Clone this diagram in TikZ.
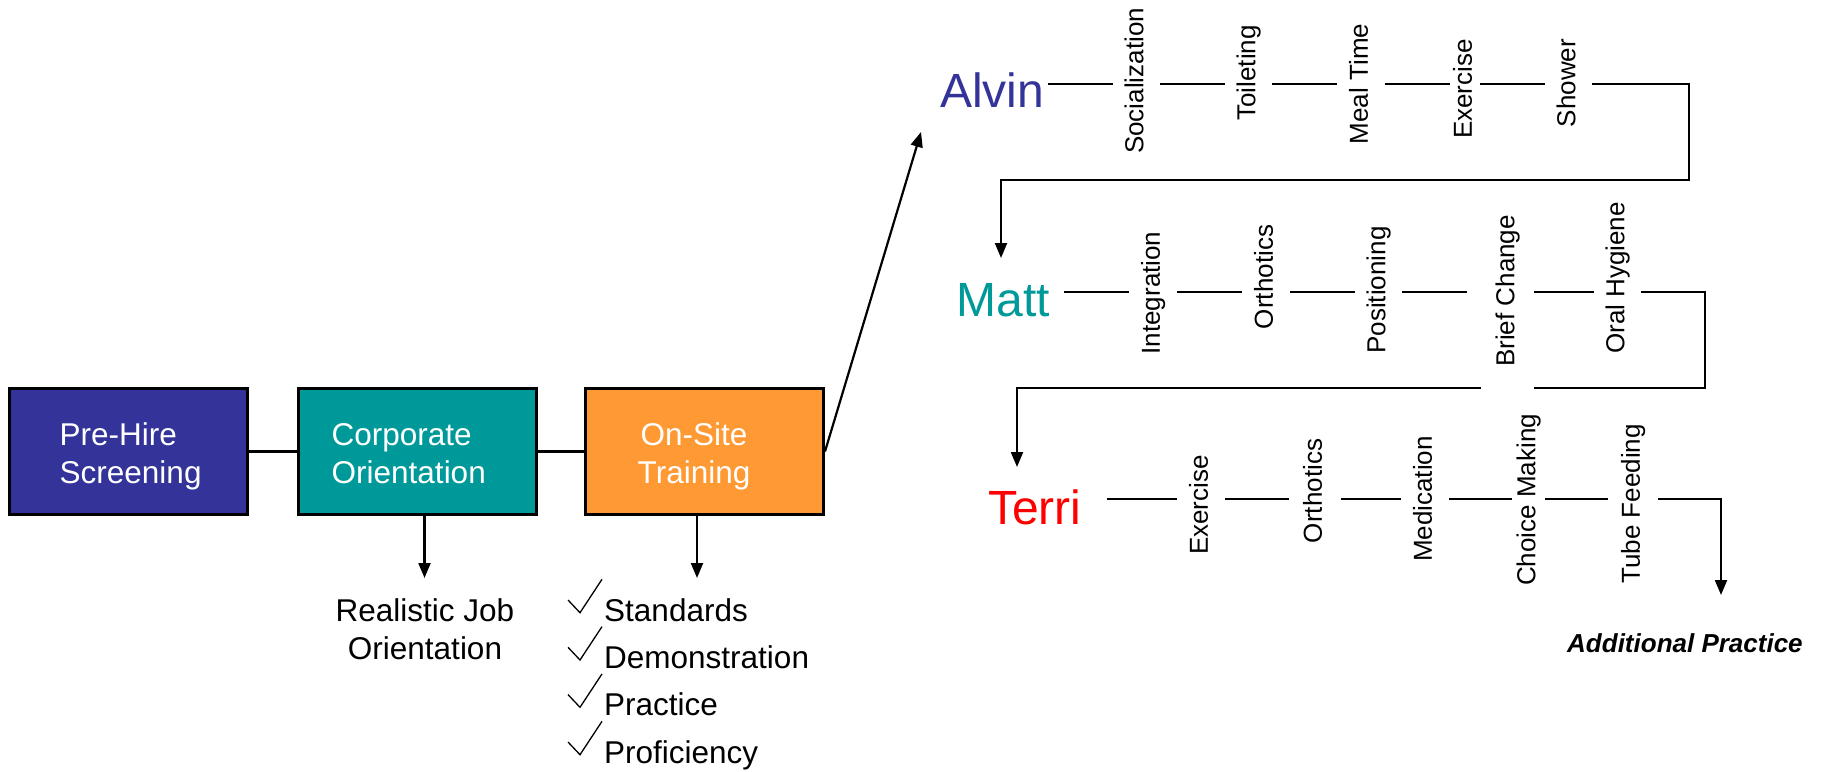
\documentclass[tikz,border=0pt]{standalone}
\usepackage{fontspec}
\setmainfont{Liberation Sans}
\usetikzlibrary{arrows.meta,calc}
\definecolor{cblue}{HTML}{333399}
\definecolor{cteal}{HTML}{009999}
\definecolor{corange}{HTML}{FF9933}
\definecolor{cred}{HTML}{FF0000}
\begin{document}
\begin{tikzpicture}[x=1pt,y=-1pt,
 conn/.style={line width=2.2pt},
 arr/.style={conn,-{Triangle[length=15pt,width=12pt]}},
 stagebox/.style={draw=black,line width=3pt,minimum width=238pt,minimum height=126pt,inner sep=0pt},
 boxtext/.style={text=white,inner sep=0pt,font=\fontsize{31.5}{38}\selectfont},
 plaintext/.style={inner sep=0pt,font=\fontsize{31.5}{38}\selectfont},
 person/.style={inner sep=0pt,anchor=base west,font=\fontsize{48}{56}\selectfont},
 task/.style={rotate=90,inner xsep=0pt,inner ysep=0pt,minimum height=#1,text height=19pt,text depth=5.5pt,font=\fontsize{26}{30}\selectfont},
 task/.default=47pt,
 tick/.style={line width=1.3pt,line join=miter}
]
\useasboundingbox (0,0) rectangle (1825,771);
\fill[white] (0,0) rectangle (1825,771);

% stage boxes
\node[stagebox,fill=cblue] (pre) at (128.5,451.5) {};
\node[stagebox,fill=cteal] (corp) at (417,451.5) {};
\node[stagebox,fill=corange] (ost) at (704.5,451.5) {};
\node[boxtext,align=left,anchor=west] (tpre) at (59.5,456.4) {\strut Pre-Hire\\Screening\strut};
\node[boxtext,align=left,anchor=west] (tcorp) at (331.5,456.4) {\strut Corporate\\Orientation\strut};
\node[boxtext,align=center] (tost) at (694,456.4) {\strut On-Site\\Training\strut};
\draw[conn] (pre.east) -- (corp.west);
\draw[conn] (corp.east) -- (ost.west);

% below boxes
\coordinate (rjIn) at (424.5,578);
\coordinate (listIn) at (697,578);
\draw[arr] (corp.south -| rjIn) -- (rjIn);
\draw[arr] (ost.south -| listIn) -- (listIn);
\node[plaintext,align=center] (rjo) at (425,632.4) {\strut Realistic Job\\Orientation\strut};

\foreach \b/\t/\n in {621/Standards/std,668.3/Demonstration/demo,715.6/Practice/prac,763/Proficiency/prof}{
  \node[plaintext,anchor=base west] (\n) at (604,\b) {\t};
  \draw[tick] (568,\b-21) -- (580,\b-8.3) -- (602,\b-41.7);
}

% to Alvin
\coordinate (alvinIn) at (921,132);
\draw[arr] (ost.east) -- (alvinIn);

% people
\node[person,text=cblue] (alvin) at (940,107) {Alvin};
\node[person,text=cteal] (matt) at (956.5,316) {Matt};
\node[person,text=cred] (terri) at (988,524) {Terri};

\coordinate (rA) at (0,84);
\coordinate (rM) at (0,292);
\coordinate (rT) at (0,499);

% Alvin row
\node[task] (soc) at (1136.5,81) {Socialization};
\node[task] (toil) at (1248.5,73) {Toileting};
\node[task] (meal) at (1361,84) {Meal Time};
\node[task=30pt] (exA) at (1465,89) {Exercise};
\node[task] (show) at (1568.5,83) {Shower};
\draw[conn,shorten <=4pt] (alvin.east |- rA) -- (soc.north |- rA);
\draw[conn] (soc.south |- rA) -- (toil.north |- rA);
\draw[conn] (toil.south |- rA) -- (meal.north |- rA);
\draw[conn] (meal.south |- rA) -- (exA.north |- rA);
\draw[conn] (exA.south |- rA) -- (show.north |- rA);
\coordinate (aTurn) at (1689,180);
\coordinate (mIn) at (1001,258);
\draw[arr] (show.south |- rA) -| (aTurn) -| (mIn);

% Matt row
\node[task=48pt] (integ) at (1153,293) {Integration};
\node[task=48pt] (orthM) at (1266,277) {Orthotics};
\node[task] (pos) at (1378.5,290) {Positioning};
\node[task=53pt] (brief) at (1507.5,291) {Brief Change};
\node[task] (oral) at (1617.5,278) {Oral Hygiene};
\draw[conn,shorten <=14pt] (matt.east |- rM) -- (integ.north |- rM);
\draw[conn] (integ.south |- rM) -- (orthM.north |- rM);
\draw[conn] (orthM.south |- rM) -- (pos.north |- rM);
\draw[conn,shorten >=14pt] (pos.south |- rM) -- (brief.north |- rM);
\draw[conn] (brief.south |- rM) -- (oral.north |- rM);
\coordinate (mTurn) at (1705,388);
\coordinate (tIn) at (1017,467);
\draw[conn] (oral.south |- rM) -| (mTurn) -- (brief.south |- mTurn);
\draw[arr] (brief.north |- mTurn) -| (tIn);

% Terri row
\node[task=48pt] (exT) at (1201,505) {Exercise};
\node[task=52pt] (orthT) at (1315,491) {Orthotics};
\node[task=48pt] (med) at (1425,499) {Medication};
\node[task=33pt] (choice) at (1528.5,500) {Choice Making};
\node[task=50pt] (tube) at (1633,504) {Tube Feeding};
\draw[conn,shorten <=25pt] (terri.east |- rT) -- (exT.north |- rT);
\draw[conn] (exT.south |- rT) -- (orthT.north |- rT);
\draw[conn] (orthT.south |- rT) -- (med.north |- rT);
\draw[conn] (med.south |- rT) -- (choice.north |- rT);
\draw[conn] (choice.south |- rT) -- (tube.north |- rT);
\coordinate (tEnd) at (1721,595);
\draw[arr] (tube.south |- rT) -| (tEnd);

\node[inner sep=0pt,anchor=base west,font=\fontsize{26}{30}\selectfont\bfseries\itshape] (addp) at (1567,652) {Additional Practice};
\end{tikzpicture}
\end{document}
